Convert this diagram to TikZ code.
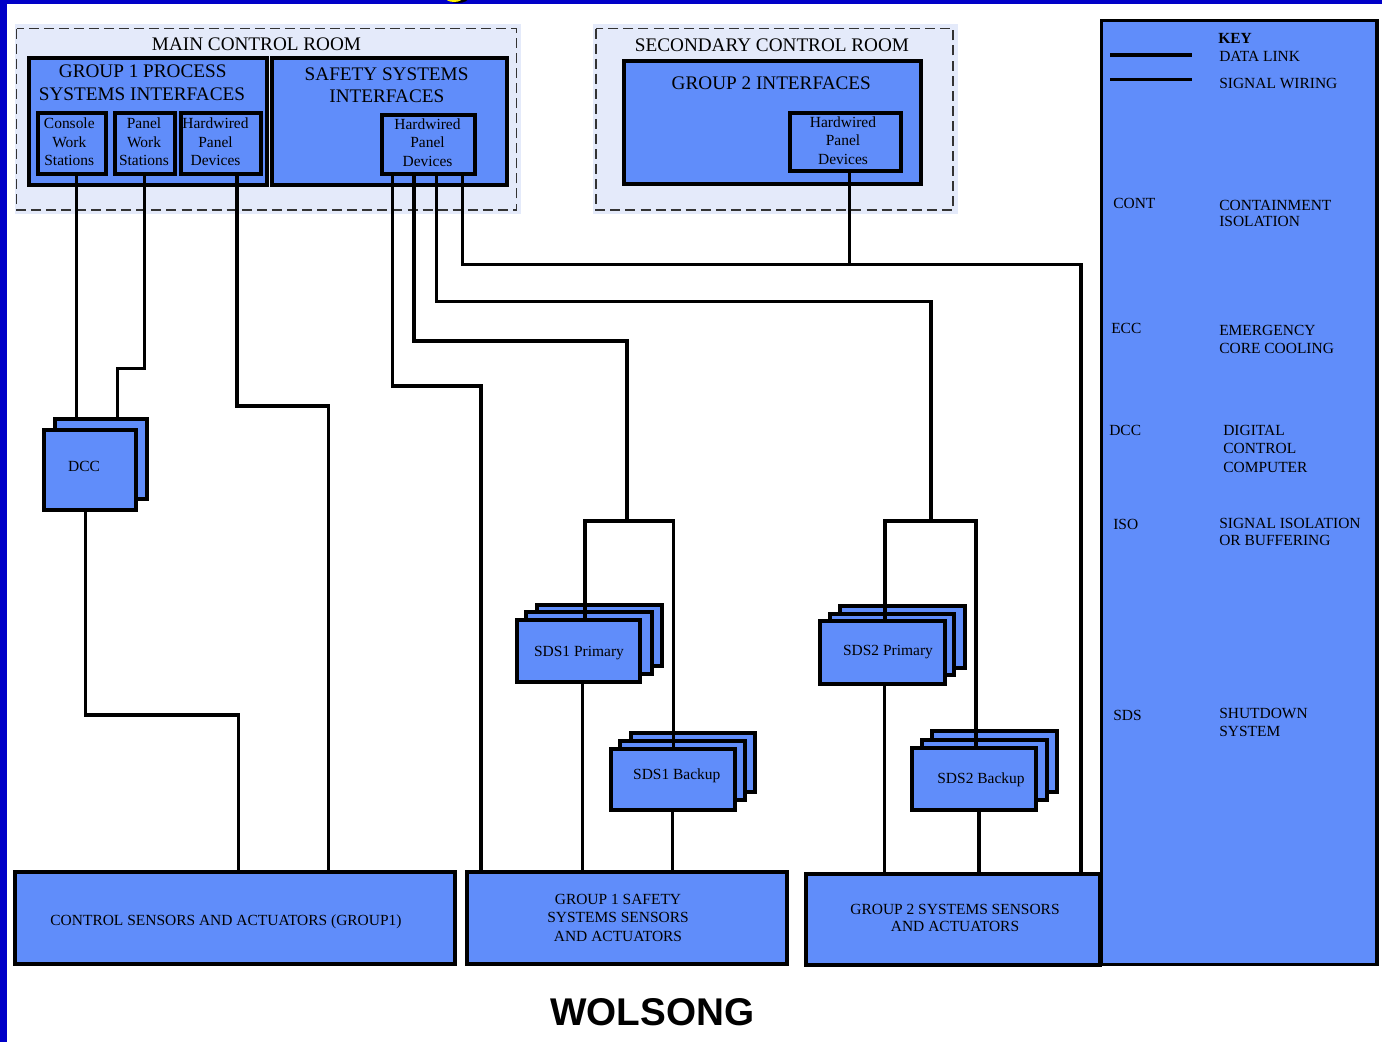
\documentclass[tikz,border=0pt]{standalone}
\usepackage{fontspec}
\setmainfont{Liberation Serif}
\newfontfamily\wolfont{Liberation Sans}
\usetikzlibrary{calc}
\definecolor{boxblue}{RGB}{96,141,250}
\definecolor{barblue}{RGB}{0,0,200}
\definecolor{roomfill}{RGB}{228,234,250}
\newcommand\mybox[6][]{\node[bx,#1, minimum width={(#5-#3)*0.75pt}, minimum height={(#6-#4)*0.75pt}] (#2) at ({(#3+#5)/2},{(#4+#6)/2}) {};}
\begin{document}
\begin{tikzpicture}[x=0.75pt,y=-0.75pt,
 bx/.style={rectangle, draw=black, line width=3pt, fill=boxblue, inner sep=0pt, outer sep=0pt},
 wire/.style={line width=2.5pt, line cap=rect, line join=miter},
 room/.style={draw=black!80, line width=0.8pt, dash pattern=on 7.5pt off 3.8pt},
 big/.style={font=\fontsize{14.4}{16}\selectfont, inner sep=0pt, anchor=base},
 sm/.style={font=\fontsize{11.6}{13}\selectfont, inner sep=0pt, anchor=base},
 smw/.style={sm, anchor=base west},
]
\useasboundingbox (0,0) rectangle (1382,1042);
\fill[white] (0,0) rectangle (1382,1042);
\fill[barblue] (0,0) rectangle (1382,4);
\fill[barblue] (0,0) rectangle (6.7,1042);
\begin{scope}
\clip (440,0) rectangle (472,3.5);
\fill[black] (458,-3) ellipse (11 and 6);
\fill[yellow] (454,-3.5) ellipse (9.5 and 5.5);
\end{scope}

% rooms
\fill[roomfill] (14.5,24) rectangle (520.5,213.5);
\draw[room] (16.5,28.5) rectangle (516.5,210);
\fill[roomfill] (593,24) rectangle (958,213.5);
\draw[room] (596,28.5) rectangle (953,210);

% boxes
\mybox{gone}{29}{58}{266.8}{184.7}
\mybox{safe}{271.8}{58}{506.8}{184.7}
\mybox{cws}{38}{113}{106}{173.7}
\mybox{pws}{114.6}{113}{174.5}{173.7}
\mybox{hwa}{181.2}{113}{261}{173.7}
\mybox{hwb}{381.7}{115.3}{474.7}{173.7}
\mybox{gtwo}{623.7}{61.3}{921.3}{184}
\mybox{hwc}{790.3}{112.7}{900.7}{170.7}
\mybox[line width=2.4pt]{key}{1101.5}{20.5}{1377}{964.5}

\mybox{dccb}{55}{418.5}{146.5}{498.5}
\mybox{dccf}{43.5}{430}{135.5}{510}

\mybox{pAb}{537.4}{604.7}{662.4}{665.7}
\mybox{pAm}{526.3}{612}{651.6}{674}
\mybox{pAf}{517.2}{620.3}{640.4}{682}
\mybox{bAb}{631}{732.7}{755}{792}
\mybox{bAm}{620}{741}{745.4}{800.3}
\mybox{bAf}{610.7}{748.7}{735}{810.3}

\mybox{pBb}{840}{606}{965}{668}
\mybox{pBm}{829.7}{614.3}{954}{675.3}
\mybox{pBf}{819.5}{621.3}{944.8}{683.7}
\mybox{bBb}{932}{731.3}{1057}{792}
\mybox{bBm}{921.8}{740.3}{1047}{800.3}
\mybox{bBf}{911.7}{747.7}{1036}{809.7}

\mybox{csa}{15}{872}{454.5}{964}
\mybox{gss}{467.4}{872}{786.8}{964}
\mybox{gtwos}{805.8}{873.7}{1099.7}{965.3}

% key sample lines
\coordinate (kl1a) at (1110,55); \coordinate (kl1b) at (1191.7,55);
\coordinate (kl2a) at (1110,79.7); \coordinate (kl2b) at (1191.7,79.7);
\draw[line width=2.4pt] (kl1a) -- (kl1b);
\draw[line width=2.4pt] (kl2a) -- (kl2b);

% wires
\coordinate (jA) at (76.5,0);
\draw[wire] (jA |- cws.south) -- (jA |- dccb.north);
\coordinate (jB) at (117.3,368.3);
\draw[wire] (pws.south) |- (jB) -- (jB |- dccb.north);
\coordinate (jC) at (328.3,406);
\draw[wire] ($(hwa.south)+(16,0)$) |- (jC) -- (jC |- csa.north);
\coordinate (jD) at (238.5,715);
\draw[wire] ($(dccf.south)+(-3.8,0)$) |- (jD) -- (jD |- csa.north);
\coordinate (jE) at (481,386);
\draw[wire] ($(hwb.south)+(-35.5,0)$) |- (jE) -- (jE |- gss.north);
\coordinate (jF) at (627,341); \coordinate (sA) at (627,521);
\draw[wire] ($(hwb.south)+(-14.2,0)$) |- (jF) -- (sA);
\coordinate (jG) at (931,301.5); \coordinate (sB) at (931,521);
\draw[wire] ($(hwb.south)+(8.4,0)$) |- (jG) -- (sB);
\coordinate (jH) at (1081,264.3);
\draw[wire] ($(hwb.south)+(34.1,0)$) |- (jH) -- (jH |- gtwos.north);
\coordinate (jI) at (849.3,264.3);
\draw[wire] (jI |- hwc.south) -- (jI);

\coordinate (sAl) at (585,521); \coordinate (sAr) at (673.5,521);
\draw[wire] (sAl) -- (sAr);
\draw[wire] (sAl) -- (sAl |- pAf.north);
\draw[wire] (sAr) -- (sAr |- bAf.north);
\coordinate (kA) at (582.7,0); \coordinate (kB) at (672.8,0);
\draw[wire] (kA |- pAf.south) -- (kA |- gss.north);
\draw[wire] (kB |- bAf.south) -- (kB |- gss.north);

\coordinate (sBl) at (885,521); \coordinate (sBr) at (976,521);
\draw[wire] (sBl) -- (sBr);
\draw[wire] (sBl) -- (sBl |- pBf.north);
\draw[wire] (sBr) -- (sBr |- bBf.north);
\coordinate (kC) at (884.4,0); \coordinate (kD) at (978.9,0);
\draw[wire] (kC |- pBf.south) -- (kC |- gtwos.north);
\draw[wire] (kD |- bBf.south) -- (kD |- gtwos.north);

% texts
\node[big] (tmcr) at (256.5,50) {MAIN CONTROL ROOM};
\node[big] (tg1a) at (142.7,77.7) {GROUP 1 PROCESS};
\node[big] (tg1b) at (142,100.7) {SYSTEMS INTERFACES};
\node[big] (tssa) at (386.6,80) {SAFETY SYSTEMS};
\node[big] (tssb) at (386.8,102.7) {INTERFACES};
\node[sm] (tc1) at (69.3,128.3) {Console};
\node[sm] (tc2) at (69.3,147.3) {Work};
\node[sm] (tc3) at (69.3,165.3) {Stations};
\node[sm] (tp1) at (144,128.3) {Panel};
\node[sm] (tp2) at (144,147.3) {Work};
\node[sm] (tp3) at (144,165.3) {Stations};
\node[sm] (th1) at (215.5,128.3) {Hardwired};
\node[sm] (th2) at (215.5,147.3) {Panel};
\node[sm] (th3) at (215.5,165.3) {Devices};
\node[sm] (ts1) at (427.5,129.3) {Hardwired};
\node[sm] (ts2) at (427.5,147.7) {Panel};
\node[sm] (ts3) at (427.5,166.7) {Devices};
\node[big] (tscr) at (772,51.7) {SECONDARY CONTROL ROOM};
\node[big] (tg2) at (771.3,89.3) {GROUP 2 INTERFACES};
\node[sm] (tq1) at (843,127.7) {Hardwired};
\node[sm] (tq2) at (843,145.3) {Panel};
\node[sm] (tq3) at (843,164) {Devices};
\node[sm] (tdcc) at (84,471) {DCC};
\node[sm] (tpa) at (579,656) {SDS1 Primary};
\node[sm] (tba) at (676.8,779.3) {SDS1 Backup};
\node[sm] (tpb) at (888,655) {SDS2 Primary};
\node[sm] (tbb) at (981,783.3) {SDS2 Backup};
\node[sm] (tcsa) at (226,925.7) {CONTROL SENSORS AND ACTUATORS (GROUP1)};
\node[sm] (tgs1) at (618,904.3) {GROUP 1 SAFETY};
\node[sm] (tgs2) at (618,922.3) {SYSTEMS SENSORS};
\node[sm] (tgs3) at (618,941) {AND ACTUATORS};
\node[sm] (tgt1) at (955,914) {GROUP 2 SYSTEMS SENSORS};
\node[sm] (tgt2) at (955,931.7) {AND ACTUATORS};

\node[smw,font=\fontsize{11.6}{13}\selectfont\bfseries] (kk) at (1218,43) {KEY};
\node[smw] (k1) at (1219,61.7) {DATA LINK};
\node[smw] (k2) at (1219,88) {SIGNAL WIRING};
\node[smw] (k3) at (1113,208) {CONT};
\node[smw] (k3a) at (1219,210) {CONTAINMENT};
\node[smw] (k3b) at (1219,226) {ISOLATION};
\node[smw] (k4) at (1111,333) {ECC};
\node[smw] (k4a) at (1219,335) {EMERGENCY};
\node[smw] (k4b) at (1219,353) {CORE COOLING};
\node[smw] (k5) at (1109,435) {DCC};
\node[smw] (k5a) at (1223,435) {DIGITAL};
\node[smw] (k5b) at (1223,453) {CONTROL};
\node[smw] (k5c) at (1223,472) {COMPUTER};
\node[smw] (k6) at (1113,529) {ISO};
\node[smw] (k6a) at (1219,528) {SIGNAL ISOLATION};
\node[smw] (k6b) at (1219,545) {OR BUFFERING};
\node[smw] (k7) at (1113,720) {SDS};
\node[smw] (k7a) at (1219,718) {SHUTDOWN};
\node[smw] (k7b) at (1219,736) {SYSTEM};

\node[font=\wolfont\bfseries\fontsize{29}{30}\selectfont, inner sep=0pt, anchor=base] (wol) at (652.3,1025.7) {WOLSONG};
\end{tikzpicture}
\end{document}
